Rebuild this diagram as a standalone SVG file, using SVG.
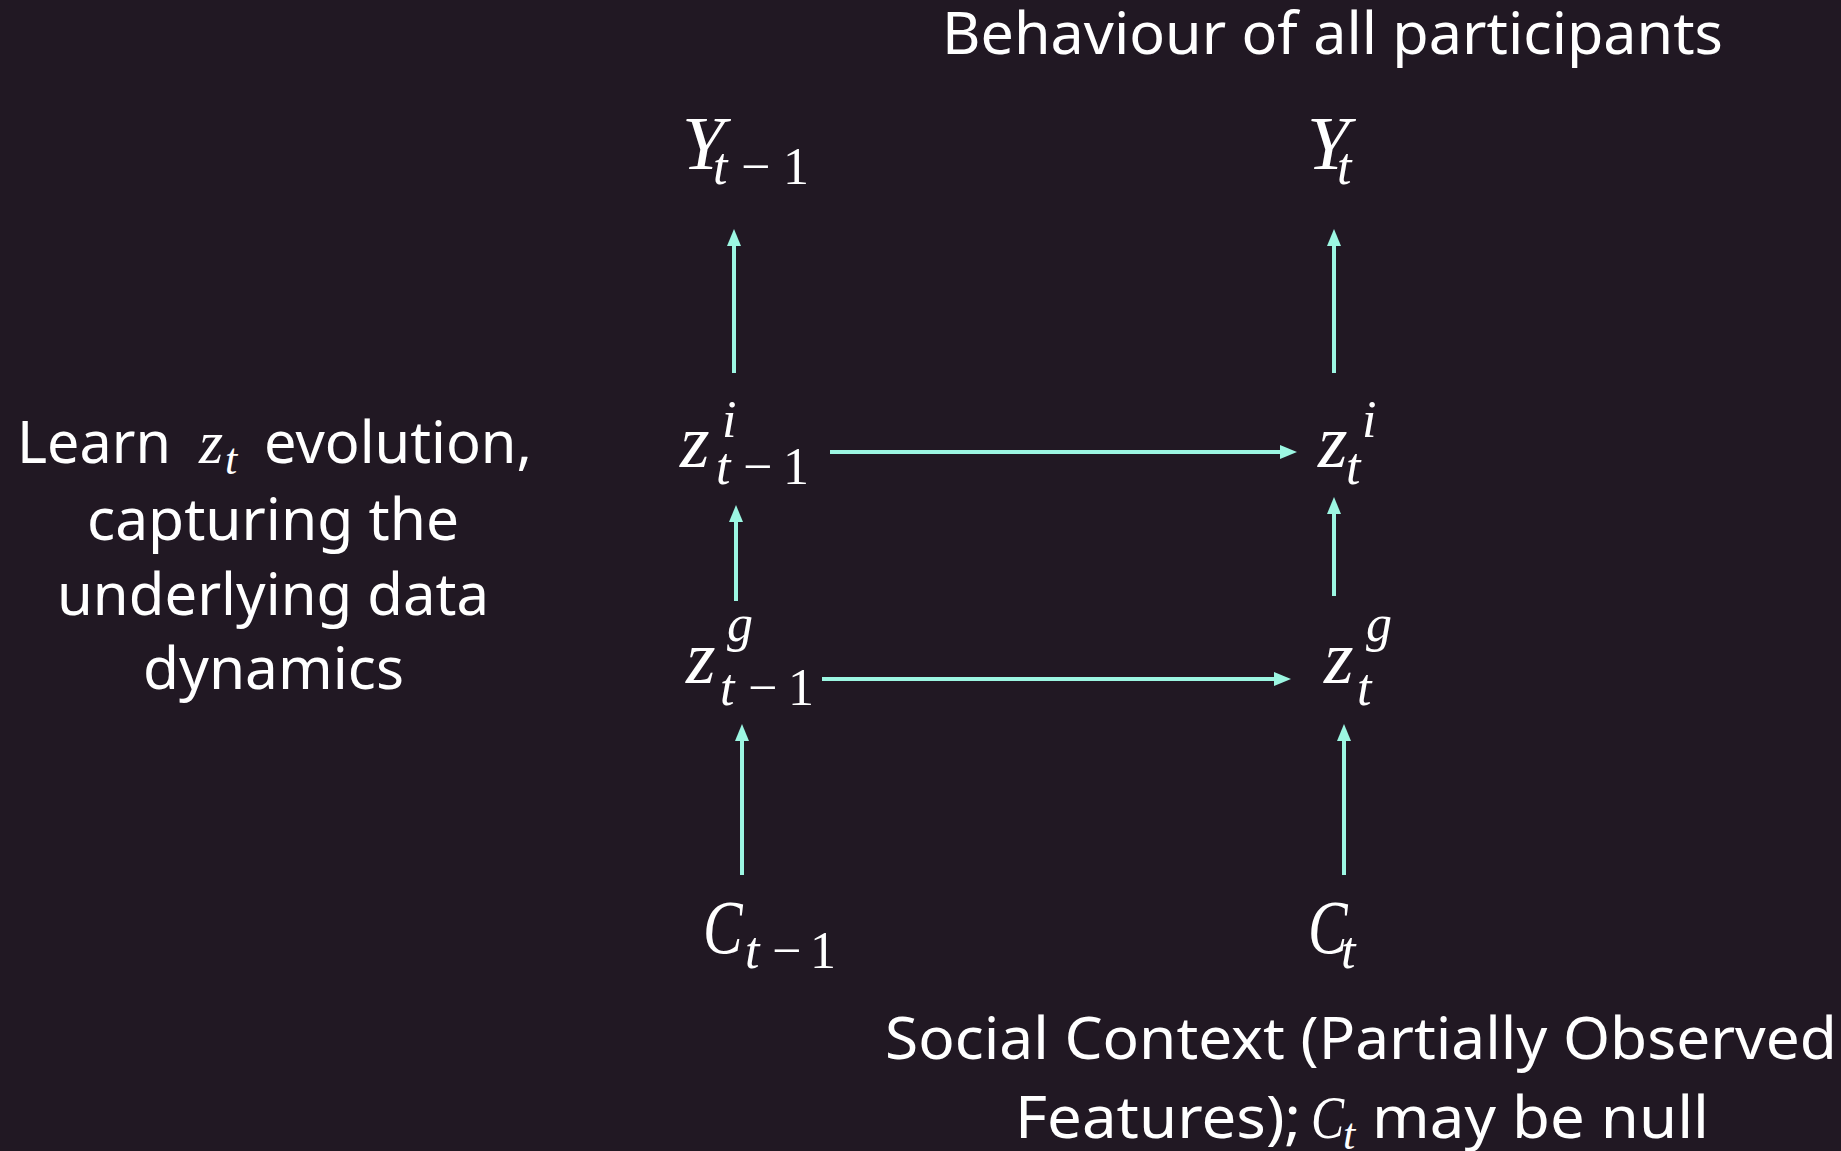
<svg xmlns="http://www.w3.org/2000/svg" width="1841" height="1151" viewBox="0 0 1841 1151">
<style>
.bg{fill:#211823}
.t{font-family:"Noto Sans","Open Sans","Liberation Sans",sans-serif;font-size:58px;fill:#ffffff}
.m{font-family:"Liberation Serif","DejaVu Serif",serif;fill:#ffffff}
.i{font-style:italic}
.n{font-style:normal}
.big{font-size:76px}
.sub{font-size:52px}
.conn{stroke:#9cf6e2;stroke-width:4;fill:none;marker-end:url(#ah)}
</style>
<defs>
<marker id="ah" markerUnits="userSpaceOnUse" markerWidth="18" markerHeight="16" refX="0" refY="7" orient="auto" viewBox="0 0 18 14">
<path d="M0,0 L17,7 L0,14 z" fill="#9cf6e2"/>
</marker>
</defs>
<rect class="bg" x="0" y="0" width="1841" height="1151"/>

<g id="title">
<text class="t" x="942" y="54" textLength="781" lengthAdjust="spacingAndGlyphs">Behaviour of all participants</text>
</g>

<g id="left-note">
<text class="t" x="17" y="463" textLength="154" lengthAdjust="spacingAndGlyphs">Learn</text>
<text class="m i" x="199" y="463" font-size="62">z<tspan x="225" y="474" font-size="44">t</tspan></text>
<text class="t" x="264" y="463" textLength="268" lengthAdjust="spacingAndGlyphs">evolution,</text>
<text class="t" x="87" y="540" textLength="372" lengthAdjust="spacingAndGlyphs">capturing the</text>
<text class="t" x="57" y="615" textLength="432" lengthAdjust="spacingAndGlyphs">underlying data</text>
<text class="t" x="143" y="689" textLength="261" lengthAdjust="spacingAndGlyphs">dynamics</text>
</g>

<g id="bottom-note">
<text class="t" x="885" y="1059" textLength="952" lengthAdjust="spacingAndGlyphs">Social Context (Partially Observed</text>
<text class="t" x="1015" y="1138" textLength="286" lengthAdjust="spacingAndGlyphs">Features);</text>
<text class="m i" font-size="62" transform="translate(1311,1138) scale(0.8,1)" x="0" y="0">C</text>
<text class="m i" x="1343" y="1149" font-size="44">t</text>
<text class="t" x="1372" y="1138" textLength="337" lengthAdjust="spacingAndGlyphs">may be null</text>
</g>

<g id="Y_t-1">
<text class="m i big" x="682" y="169">Y<tspan class="sub" x="713" y="184">t</tspan><tspan class="sub n" x="741" y="184">−</tspan><tspan class="sub n" x="783" y="184">1</tspan></text>
</g>
<g id="Y_t">
<text class="m i big" x="1307" y="169">Y<tspan class="sub" x="1337" y="184">t</tspan></text>
</g>

<g id="zi_t-1">
<text class="m i big" x="680" y="467">z<tspan class="sub" x="722" y="437">i</tspan><tspan class="sub" x="716" y="484">t</tspan><tspan class="sub n" x="743" y="484">−</tspan><tspan class="sub n" x="783" y="484">1</tspan></text>
</g>
<g id="zi_t">
<text class="m i big" x="1318" y="467">z<tspan class="sub" x="1362" y="437">i</tspan><tspan class="sub" x="1346" y="484">t</tspan></text>
</g>

<g id="zg_t-1">
<text class="m i big" x="686" y="683">z<tspan class="sub" x="727" y="641">g</tspan><tspan class="sub" x="720" y="705">t</tspan><tspan class="sub n" x="748" y="705">−</tspan><tspan class="sub n" x="788" y="705">1</tspan></text>
</g>
<g id="zg_t">
<text class="m i big" x="1324" y="683">z<tspan class="sub" x="1366" y="641">g</tspan><tspan class="sub" x="1357" y="705">t</tspan></text>
</g>

<g id="C_t-1">
<text class="m i big" transform="translate(703,953) scale(0.78,1)" x="0" y="0">C</text>
<text class="m i sub" x="745" y="968">t<tspan class="n" x="772">−</tspan><tspan class="n" x="810">1</tspan></text>
</g>
<g id="C_t">
<text class="m i big" transform="translate(1308,953) scale(0.78,1)" x="0" y="0">C</text>
<text class="m i sub" x="1341" y="968">t</text>
</g>

<g id="connectors">
<path class="conn" d="M734,373 L734,246"/>
<path class="conn" d="M1334,373 L1334,246"/>
<path class="conn" d="M830,452 L1280,452"/>
<path class="conn" d="M736,601 L736,522"/>
<path class="conn" d="M1334,596 L1334,514"/>
<path class="conn" d="M822,679 L1274,679"/>
<path class="conn" d="M742,875 L742,741"/>
<path class="conn" d="M1344,875 L1344,741"/>
</g>
</svg>
